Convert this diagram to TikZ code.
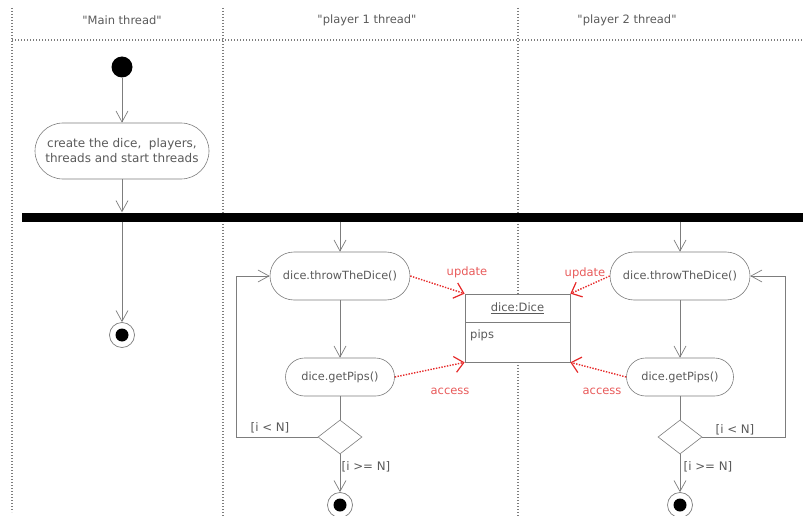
\documentclass[tikz,border=0pt]{standalone}
\usepackage{fontspec}
\setmainfont{DejaVu Sans}
\usetikzlibrary{shapes.geometric,shapes.misc,arrows.meta}
\definecolor{lineg}{RGB}{125,125,125}
\definecolor{textg}{RGB}{90,90,90}
\definecolor{laneg}{RGB}{125,125,125}
\definecolor{redl}{RGB}{230,40,40}
\definecolor{redt}{RGB}{232,90,90}
\tikzset{
  lane/.style={draw=laneg, line width=1.1pt, dash pattern=on 1.1pt off 1.9pt},
  hdr/.style={text=textg, font=\fontsize{11.5}{13}\selectfont},
  act/.style={rounded rectangle, draw=lineg, line width=0.6pt, fill=white, text=textg,
              font=\fontsize{11.3}{15}\selectfont, inner sep=0pt, align=center},
  flow/.style={draw=lineg, line width=0.6pt},
  arr/.style={flow, -{Straight Barb[length=11pt,width=12pt,line width=0.7pt]}},
  dep/.style={draw=redl, line width=1.4pt, dash pattern=on 1.4pt off 1.4pt,
              -{Straight Barb[length=9pt,width=16pt,line width=1.2pt,line cap=butt]}},
  rlab/.style={text=redt, font=\fontsize{11.5}{13}\selectfont},
  guard/.style={text=textg, font=\fontsize{11.8}{13}\selectfont},
  decision/.style={diamond, draw=lineg, line width=0.6pt, fill=white, inner sep=0pt,
                   minimum width=44pt, minimum height=34pt},
  startn/.style={circle, fill=black, inner sep=0pt, minimum size=21pt},
  endo/.style={circle, draw=lineg, line width=0.7pt, fill=white, inner sep=0pt, minimum size=25pt},
  endi/.style={circle, fill=black, inner sep=0pt, minimum size=13pt},
}
\begin{document}
\begin{tikzpicture}[x=1pt,y=-1pt]
\useasboundingbox (0,0) rectangle (803,516);
% swimlanes
\coordinate (la0) at (12,8);   \coordinate (lb0) at (12,512);
\coordinate (la1) at (223,8);  \coordinate (lb1) at (223,516);
\coordinate (la2) at (518,8);  \coordinate (lb2) at (518,516);
\coordinate (h0) at (12,40);   \coordinate (h1) at (803,40);
\draw[lane] (la0) -- (lb0);
\draw[lane] (la1) -- (lb1);
\draw[lane] (la2) -- (lb2);
\draw[lane] (h0) -- (h1);
\node[hdr] (hm) at (122,20) {\textquotedbl Main thread\textquotedbl};
\node[hdr] (hp1) at (367,20) {\textquotedbl player 1 thread\textquotedbl};
\node[hdr] (hp2) at (627,20) {\textquotedbl player 2 thread\textquotedbl};

% main thread
\node[startn] (start) at (122,67) {};
\node[act, minimum width=174pt, minimum height=56pt, font=\fontsize{12}{15}\selectfont] (create) at (122,151)
  {create the dice,\ \ players,\\threads and start threads};
\node[rectangle, fill=black, inner sep=0pt, minimum width=781pt, minimum height=9pt] (bar) at (412.5,217) {};
\node[endo] (fm) at (122,335) {};
\node[endi] (fmi) at (122,335) {};
\draw[arr] (start) -- (create.north);
\draw[arr] (create.south) -- (create.south |- bar.north);
\draw[arr] (fm.north |- bar.south) -- (fm.north);

% dice object
\node[rectangle, draw=lineg, line width=0.7pt, fill=white, minimum width=105pt, minimum height=68pt, inner sep=0pt] (dice) at (517.5,328) {};
\coordinate (dvl) at (465,322); \coordinate (dvr) at (570,322);
\draw[flow] (dvl) -- (dvr);
\node[text=textg, font=\fontsize{11.5}{13}\selectfont] (dname) at (517.5,308) {\underline{dice:Dice}};
\node[text=textg, font=\fontsize{11.5}{13}\selectfont, anchor=west, inner sep=0pt] (pips) at (470,335) {pips};

% player 1
\node[act, minimum width=140pt, minimum height=48pt] (t1) at (340,276) {dice.throwTheDice()};
\node[act, minimum width=109pt, minimum height=38pt] (g1) at (340,377) {dice.getPips()};
\node[decision] (d1) at (340,437) {};
\node[endo] (f1) at (340,505) {};
\node[endi] (f1i) at (340,505) {};
\coordinate (l1) at (236,437);
\draw[arr] (t1.north |- bar.south) -- (t1.north);
\draw[arr] (t1.south) -- (g1.north);
\draw[flow] (g1.south) -- (d1.north);
\draw[arr] (d1.west) -- (l1) |- (t1.west);
\draw[arr] (d1.south) -- (f1.north);
\node[guard] (gl1) at (270,428) {[i < N]};
\node[guard] (gg1) at (366,467) {[i >= N]};
\draw[dep] (t1.east) -- (dice.north west);
\draw[dep] (g1.east) -- (dice.south west);
\node[rlab] (u1) at (467,272) {update};
\node[rlab] (a1) at (450,391) {access};

% player 2
\node[act, minimum width=140pt, minimum height=48pt] (t2) at (680,276) {dice.throwTheDice()};
\node[act, minimum width=107pt, minimum height=38pt] (g2) at (680,377) {dice.getPips()};
\node[decision] (d2) at (680,437) {};
\node[endo] (f2) at (680,505) {};
\node[endi] (f2i) at (680,505) {};
\coordinate (l2) at (785,437);
\draw[arr] (t2.north |- bar.south) -- (t2.north);
\draw[arr] (t2.south) -- (g2.north);
\draw[flow] (g2.south) -- (d2.north);
\draw[arr] (d2.east) -- (l2) |- (t2.east);
\draw[arr] (d2.south) -- (f2.north);
\node[guard] (gl2) at (735,430) {[i < N]};
\node[guard] (gg2) at (708,467) {[i >= N]};
\draw[dep] (t2.west) -- (dice.north east);
\draw[dep] (g2.west) -- (dice.south east);
\node[rlab] (u2) at (585,273) {update};
\node[rlab] (a2) at (602,391) {access};
\end{tikzpicture}
\end{document}
